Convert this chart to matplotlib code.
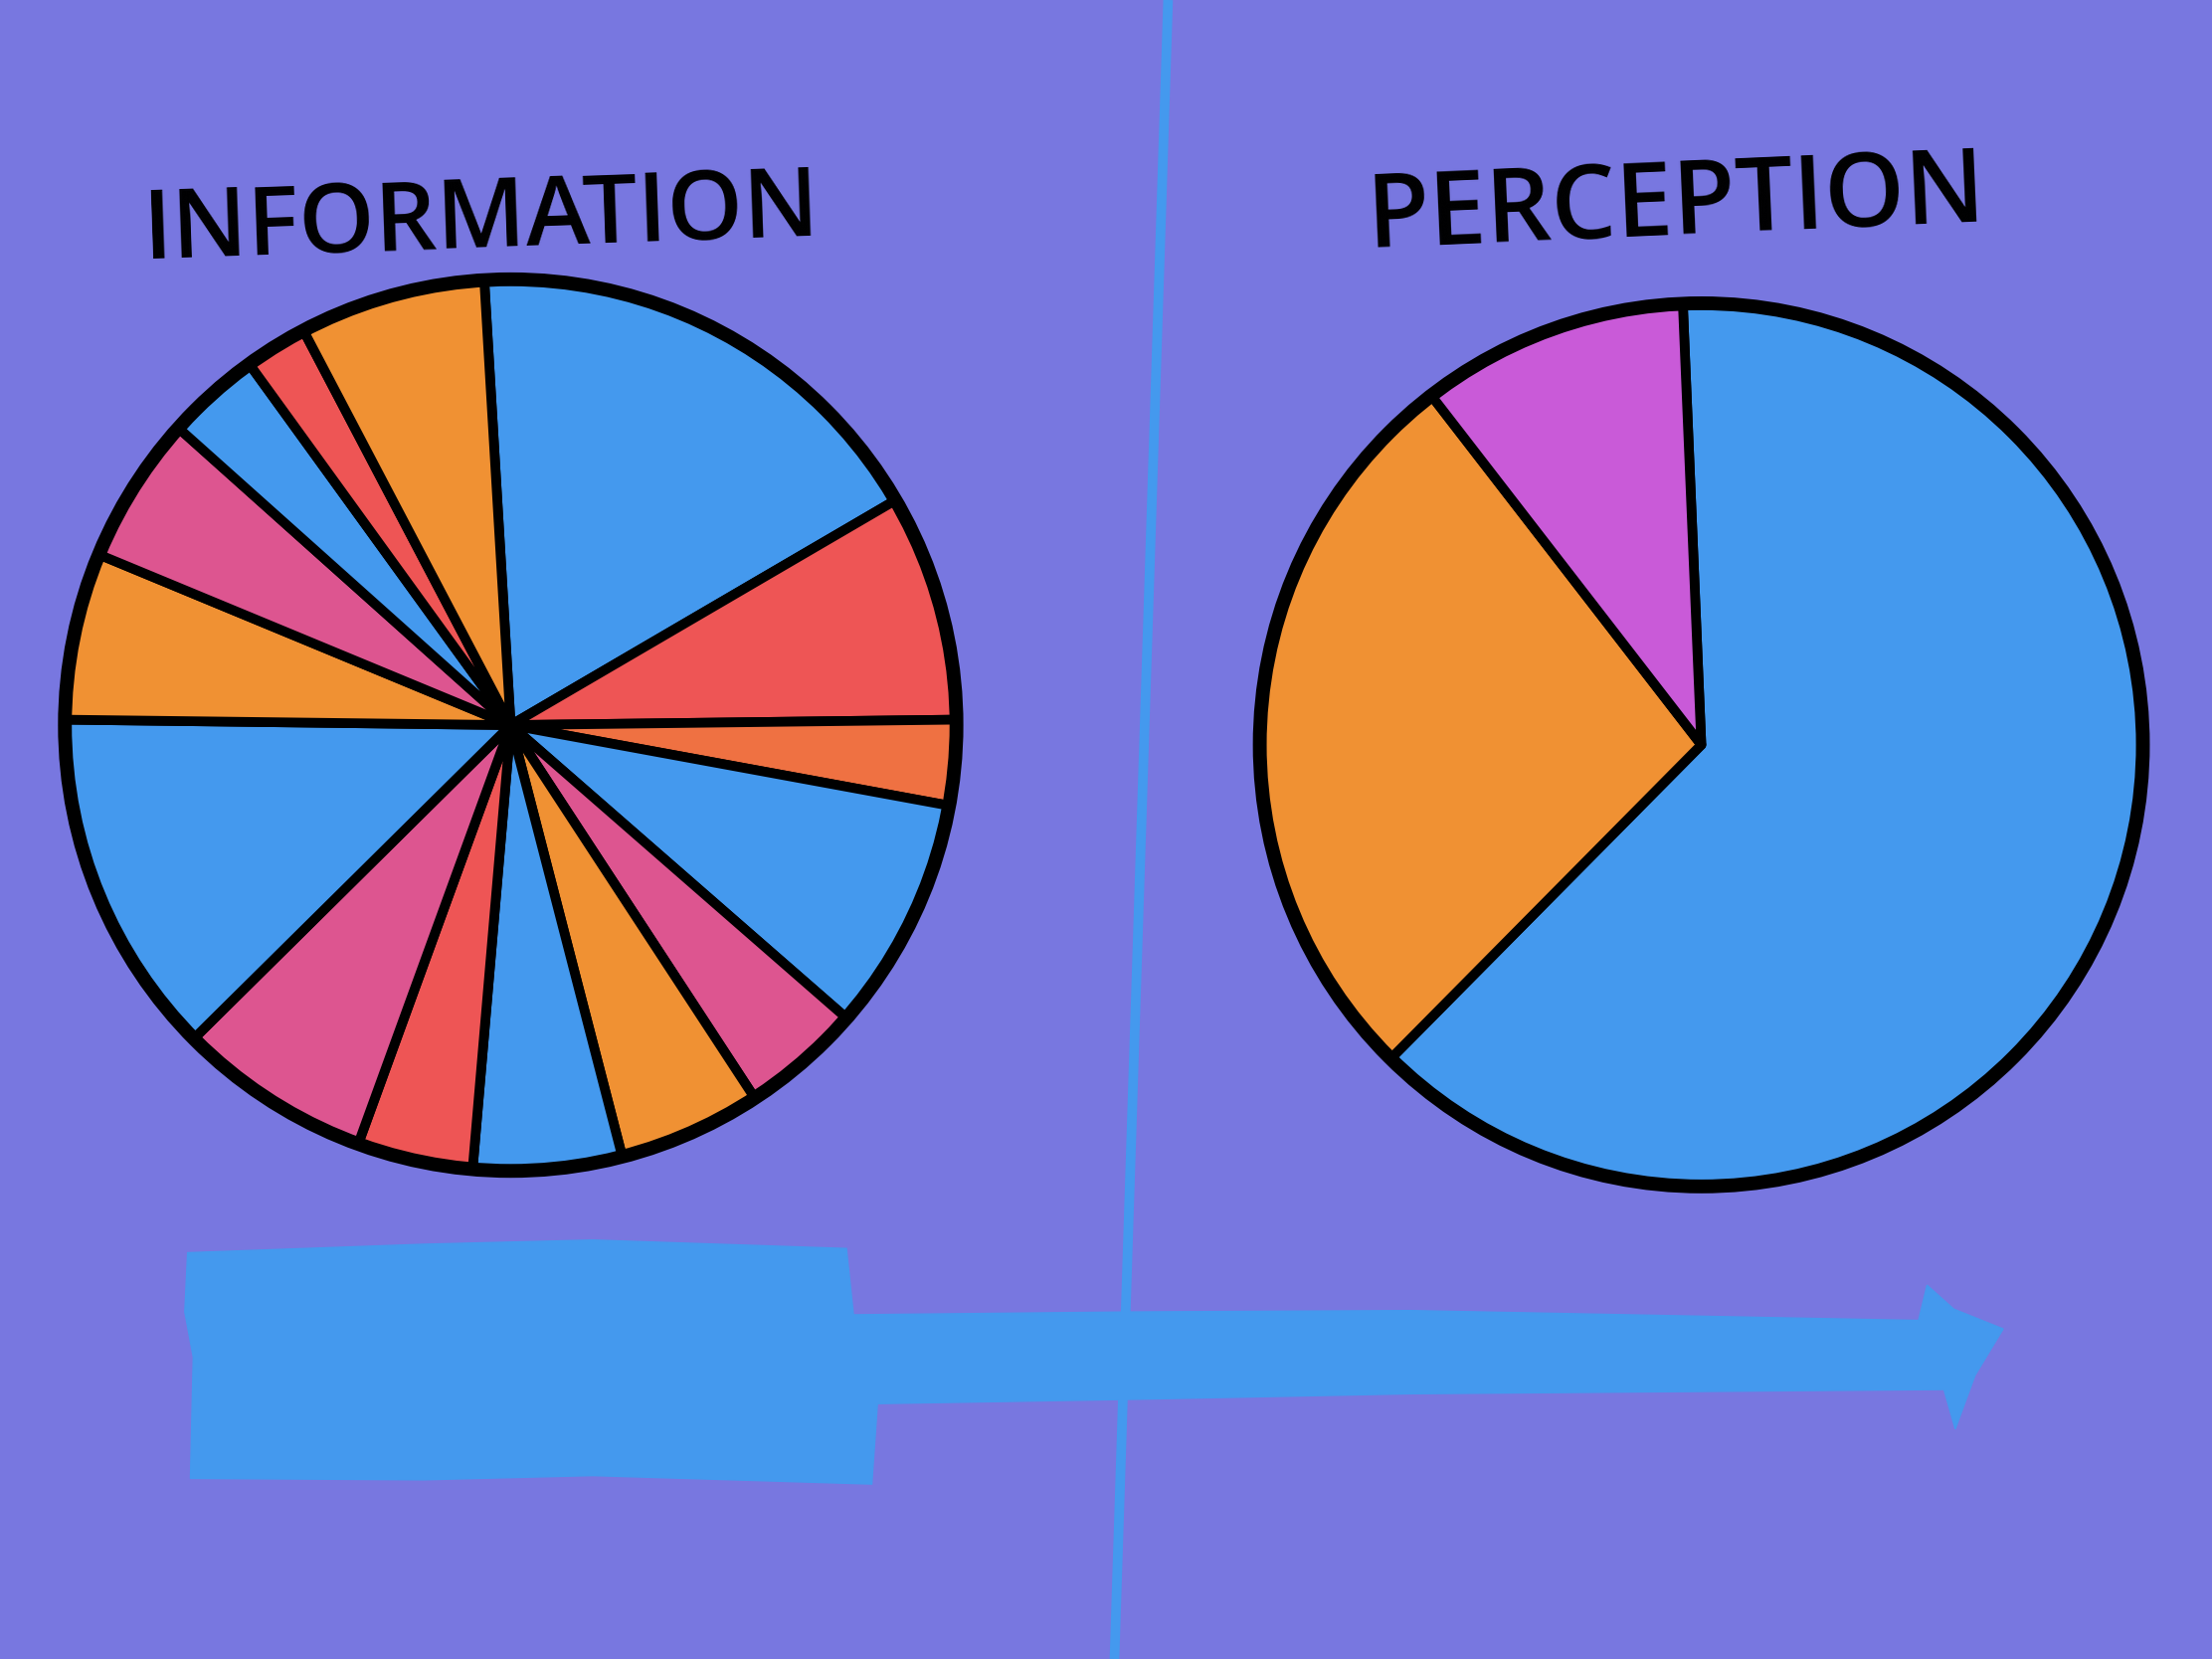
import matplotlib
matplotlib.use('Agg')
import matplotlib.pyplot as plt
from matplotlib.patches import Circle, Polygon

# information pie: slice sizes in degrees, clockwise from the top
info_sizes = [63.1, 29.6, 11.1, 30.7, 15.7, 18.7, 19.4, 15.1, 25.3, 45.4, 21.8, 19.3, 12.3, 8.2, 24.3]
info_colors = ['#4499EE', '#EE5555', '#EF7142', '#4499EE', '#DD5590', '#F09133', '#4499EE', '#EE5555',
               '#DD5590', '#4499EE', '#F09133', '#DD5590', '#4499EE', '#EE5555', '#F09133']

# perception pie
perc_sizes = [227.1, 97.6, 35.3]
perc_colors = ['#4499EE', '#F09133', '#C95AD8']

bg = '#7877E0'
blue = '#4499EE'

fig = plt.figure(figsize=(22.24, 16.68), dpi=100, facecolor=bg)
ax = fig.add_axes([0, 0, 1, 1])
ax.set_facecolor(bg)

H = 1176  # working in a 1568 x 1176 canvas, y measured from the top


def flip(pts):
    return [(x, H - y) for x, y in pts]


# divider line
ax.plot([828, 790], [H - 0, H - 1176], color=blue, lw=7, solid_capstyle='butt', zorder=1)

# big hand drawn arrow
arrow = flip([(133, 888), (300, 882), (420, 879), (600, 885), (605, 932), (800, 930), (1000, 929),
              (1360, 936), (1366, 911), (1385, 928), (1420, 942), (1400, 975), (1386, 1013),
              (1378, 985), (1000, 988), (800, 992), (622, 995), (618, 1052), (420, 1046),
              (300, 1049), (135, 1048), (137, 962), (131, 930)])
ax.add_patch(Polygon(arrow, closed=True, color=blue, zorder=2))

# pies
left_c = (362, H - 514)
right_c = (1206, H - 528)
ax.pie(info_sizes, colors=info_colors, startangle=93.4, counterclock=False, center=left_c, radius=316,
       wedgeprops=dict(edgecolor='black', linewidth=7, joinstyle='round'), frame=True)
ax.pie(perc_sizes, colors=perc_colors, startangle=92.4, counterclock=False, center=right_c, radius=313,
       wedgeprops=dict(edgecolor='black', linewidth=7, joinstyle='round'), frame=True)
ax.add_patch(Circle(left_c, 316, fill=False, edgecolor='black', lw=10, zorder=5))
ax.add_patch(Circle(right_c, 313, fill=False, edgecolor='black', lw=10, zorder=5))

# titles
ax.text(341, H - 157, 'INFORMATION', ha='center', va='center', fontsize=70, rotation=2,
        family='Open Sans', fontweight='semibold', color='black')
ax.text(1188, H - 147, 'PERCEPTION', ha='center', va='center', fontsize=74, rotation=2.5,
        family='Open Sans', fontweight='semibold', color='black')

ax.set_xlim(0, 1568)
ax.set_ylim(0, H)
ax.set_aspect('equal')
ax.axis('off')

fig.savefig('out.png', dpi=100, facecolor=bg)
